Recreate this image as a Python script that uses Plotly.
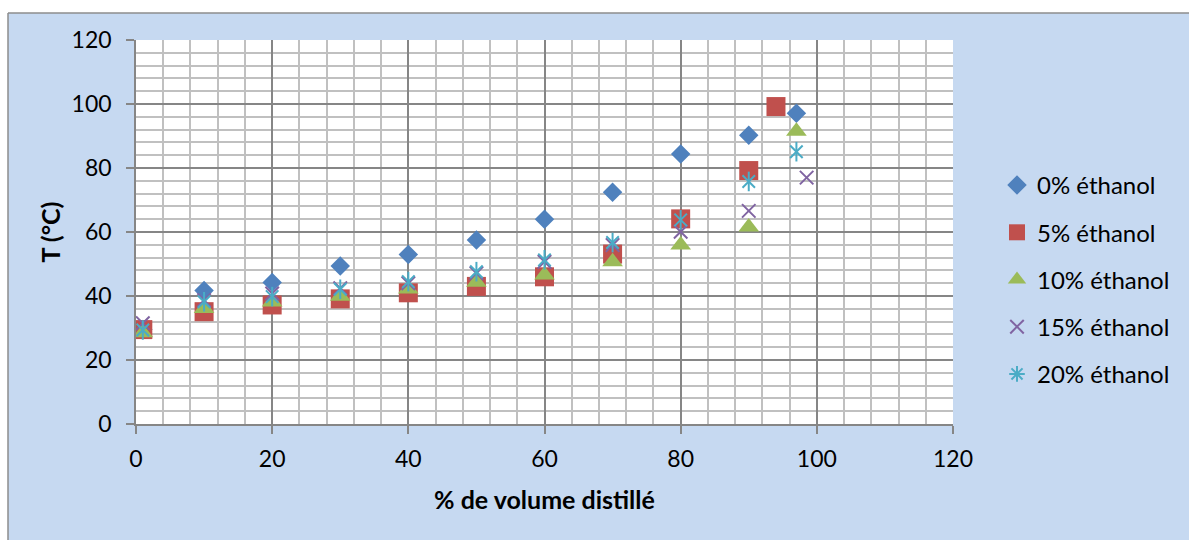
import plotly.graph_objects as go

# ---- data ----
x_0 = [1, 10, 20, 30, 40, 50, 60, 70, 80, 90, 97]
y_0 = [29.5, 41.7, 44.2, 49.4, 53.0, 57.5, 64.0, 72.4, 84.4, 90.2, 97.1]

x_5 = [1, 10, 20, 30, 40, 50, 60, 70, 80, 90, 94]
y_5 = [29.5, 35.1, 37.2, 39.1, 41.0, 43.0, 46.0, 53.1, 64.1, 79.2, 99.2]

x_10 = [1, 10, 20, 30, 40, 50, 60, 70, 80, 90, 97]
y_10 = [28.5, 36.1, 38.1, 39.9, 42.2, 44.3, 46.6, 50.7, 55.9, 61.6, 91.5]

x_15 = [1, 10, 20, 30, 40, 50, 60, 70, 80, 90, 98.5]
y_15 = [31.5, 38.7, 40.8, 42.4, 44.0, 47.1, 50.7, 55.9, 60.1, 66.6, 77.0]

x_20 = [1, 10, 20, 30, 40, 50, 60, 70, 80, 90, 97]
y_20 = [29.4, 38.2, 39.8, 42.1, 44.5, 47.6, 51.3, 56.7, 63.8, 75.8, 85.1]

names = ["0% éthanol", "5% éthanol", "10% éthanol", "15% éthanol", "20% éthanol"]
colors = ["#4F81BD", "#C0504D", "#9BBB59", "#8064A2", "#4BACC6"]

FONT = "Lato, Carlito, Calibri, sans-serif"

fig = go.Figure()

fig.add_trace(go.Scatter(x=x_0, y=y_0, mode="markers", name=names[0], legendgroup="g0",
                         marker=dict(symbol="diamond", size=15, color=colors[0])))
fig.add_trace(go.Scatter(x=x_5, y=y_5, mode="markers", name=names[1], legendgroup="g1",
                         marker=dict(symbol="square", size=19, color=colors[1])))
fig.add_trace(go.Scatter(x=x_10, y=y_10, mode="markers", name=names[2], legendgroup="g2",
                         marker=dict(symbol="triangle-up", size=18, color=colors[2])))
fig.add_trace(go.Scatter(x=x_15, y=y_15, mode="markers", name=names[3], legendgroup="g3",
                         marker=dict(symbol="x-thin-open", size=13.5, color=colors[3],
                                     line=dict(width=2, color=colors[3]))))
# 20%: X plus vertical bar (Excel star marker)
fig.add_trace(go.Scatter(x=x_20, y=y_20, mode="markers", name=names[4], legendgroup="g4",
                         showlegend=False,
                         marker=dict(symbol="x-thin-open", size=12.5, color=colors[4],
                                     line=dict(width=2, color=colors[4]))))
fig.add_trace(go.Scatter(x=x_20, y=y_20, mode="markers", name=names[4], legendgroup="g4",
                         showlegend=False,
                         marker=dict(symbol="line-ns-open", size=14, color=colors[4],
                                     line=dict(width=2, color=colors[4]))))
fig.add_trace(go.Scatter(x=[None], y=[None], mode="markers", name=names[4], legendgroup="g4",
                         marker=dict(symbol="asterisk-open", size=13, color=colors[4],
                                     line=dict(width=2, color=colors[4]))))

W, H = 1189, 540
L, R, T, B = 136, 236, 40, 116
pw, ph = W - L - R, H - T - B

def px_x(p):
    return (p - L) / pw

def px_y(p):
    return (H - B - p) / ph

BG = "#C6D9F1"
BORDER = "#8C8C8C"

shapes = [
    dict(type="rect", xref="paper", yref="paper", x0=px_x(-20), x1=px_x(8), y0=px_y(600), y1=px_y(-20),
         fillcolor="white", line=dict(width=0), layer="below"),
    dict(type="rect", xref="paper", yref="paper", x0=px_x(-20), x1=px_x(1250), y0=px_y(13), y1=px_y(-20),
         fillcolor="white", line=dict(width=0), layer="below"),
    dict(type="line", xref="paper", yref="paper", x0=px_x(8), x1=px_x(8), y0=px_y(600), y1=px_y(13),
         line=dict(color=BORDER, width=1.5)),
    dict(type="line", xref="paper", yref="paper", x0=px_x(8), x1=px_x(1250), y0=px_y(13), y1=px_y(13),
         line=dict(color=BORDER, width=1.5)),
]

axis_common = dict(
    range=[0, 120], dtick=20, tick0=0,
    showgrid=True, gridcolor="#868686", gridwidth=1.5,
    showline=True, linecolor="#868686", linewidth=1.5,
    ticks="outside", ticklen=8, tickcolor="#868686", tickwidth=1.5,
    zeroline=False,
    minor=dict(dtick=4, showgrid=True, gridcolor="#C0C0C0", gridwidth=1.5, ticks=""),
    tickfont=dict(family=FONT, size=23, color="#000000"),
    fixedrange=True,
)

fig.update_layout(
    width=W, height=H,
    margin=dict(l=L, r=R, t=T, b=B),
    paper_bgcolor=BG, plot_bgcolor="white",
    font=dict(family=FONT, color="#000000"),
    xaxis=dict(**axis_common, ticklabelstandoff=6,
               title=dict(text="<b>% de volume distillé</b>", font=dict(family=FONT, size=25), standoff=20)),
    yaxis=dict(**axis_common, ticklabelstandoff=10,
               title=dict(text="<b>T (°C)</b>", font=dict(family=FONT, size=25), standoff=4)),
    legend=dict(x=px_x(997), y=px_y(163), xanchor="left", yanchor="top",
                font=dict(family=FONT, size=24), bgcolor="rgba(0,0,0,0)",
                traceorder="grouped", tracegroupgap=13, itemwidth=30),
    shapes=shapes,
    showlegend=True,
)

fig.write_html("out.html")
